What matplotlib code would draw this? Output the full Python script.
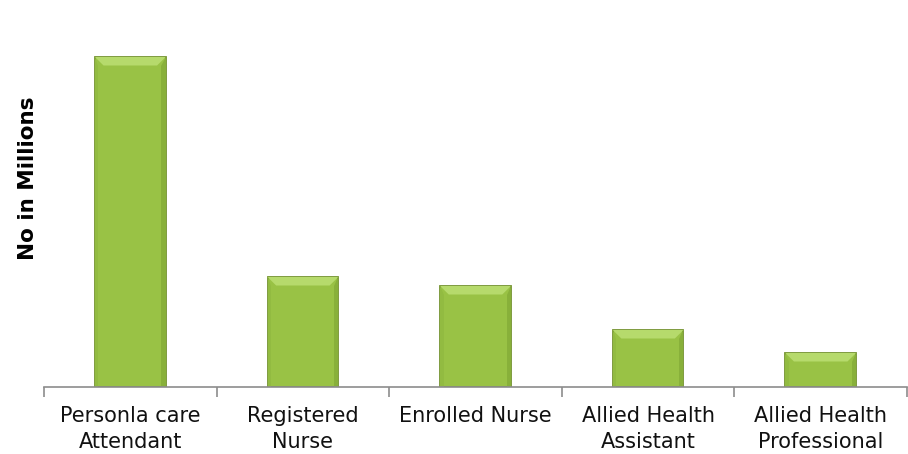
import numpy as np
import matplotlib.pyplot as plt
from matplotlib.patches import Polygon

categories = ["Personla care\nAttendant", "Registered\nNurse", "Enrolled Nurse",
              "Allied Health\nAssistant", "Allied Health\nProfessional"]
values = [3.30, 1.10, 1.01, 0.57, 0.34]

fig = plt.figure(figsize=(9.08, 4.54), dpi=100)
ax = fig.add_axes([44 / 908, 67 / 454, 863 / 908, 363 / 454])

x = np.arange(len(categories))
w = 0.41
bars = ax.bar(x, values, width=w, color="#99c245", edgecolor="#74932f", linewidth=1.3, zorder=3)

# bevel effect: lighter top trapezoid, darker sides
bh = 0.085   # bevel depth in data units (y)
bw = 0.05    # bevel depth in data units (x)
for b in bars:
    x0, x1 = b.get_x(), b.get_x() + b.get_width()
    top = b.get_height()
    ax.add_patch(Polygon([(x0, top), (x1, top), (x1 - bw, top - bh), (x0 + bw, top - bh)],
                         closed=True, facecolor="#b6da6c", edgecolor="none", zorder=4))
    ax.add_patch(Polygon([(x1, top), (x1, 0), (x1 - bw * 0.5, 0), (x1 - bw * 0.5, top - bh)],
                         closed=True, facecolor="#88b03a", edgecolor="none", zorder=4))
    ax.add_patch(Polygon([(x0, top), (x0, 0), (x0 + bw * 0.4, 0), (x0 + bw * 0.4, top - bh)],
                         closed=True, facecolor="#92bb41", edgecolor="none", zorder=4))

ax.set_xlim(-0.5, len(categories) - 0.5)
ax.set_ylim(0, 3.63)

for s in ["top", "right", "left"]:
    ax.spines[s].set_visible(False)
ax.spines["bottom"].set_color("#8c8c8c")
ax.spines["bottom"].set_linewidth(1.2)
ax.spines["bottom"].set_zorder(5)

ax.set_yticks([])
ax.set_xticks(x)
ax.set_xticklabels(categories, fontsize=15, color="#111111", linespacing=1.35)
ax.tick_params(axis="x", which="major", length=0, pad=14)
ax.set_xticks(np.arange(-0.5, len(categories)), minor=True)
ax.tick_params(axis="x", which="minor", length=7, color="#8c8c8c", width=1.2)

fig.text(28 / 908, 1 - 178 / 454, "No in Millions", rotation=90, ha="center", va="center",
         fontsize=15.5, fontweight="bold")

fig.savefig("out.png", dpi=100)
